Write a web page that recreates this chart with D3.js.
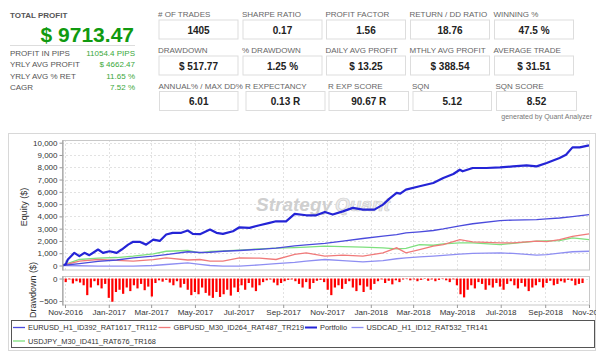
<!DOCTYPE html>
<html><head><meta charset="utf-8">
<script src="https://cdn.jsdelivr.net/npm/d3@7"></script>
<style>body{margin:0;background:#fff;} svg{display:block;font-family:'Liberation Sans',Arial,sans-serif;}</style>
</head><body><svg id="c" width="602" height="356"></svg>
<script>
// ---------- DATA ----------
const totalProfit = "$ 9713.47";
const summaryLabels = ["PROFIT IN PIPS", "YRLY AVG PROFIT", "YRLY AVG % RET", "CAGR"];
const summaryValues = ["11054.4 PIPS", "$ 4662.47", "11.65 %", "7.52 %"];
const statLabels = [
  ["# OF TRADES", "SHARPE RATIO", "PROFIT FACTOR", "RETURN / DD RATIO", "WINNING %"],
  ["DRAWDOWN", "% DRAWDOWN", "DAILY AVG PROFIT", "MTHLY AVG PROFIT", "AVERAGE TRADE"],
  ["ANNUAL% / MAX DD%", "R EXPECTANCY", "R EXP SCORE", "SQN", "SQN SCORE"]
];
const statValues = [
  ["1405", "0.17", "1.56", "18.76", "47.5 %"],
  ["$ 517.77", "1.25 %", "$ 13.25", "$ 388.54", "$ 31.51"],
  ["6.01", "0.13 R", "90.67 R", "5.12", "8.52"]
];

const portfolioDates = ["2016-10-28","2016-11-02","2016-11-05","2016-11-14","2016-11-21","2016-11-28","2016-12-05","2016-12-17","2016-12-24",
 "2017-01-02","2017-01-12","2017-01-19","2017-01-28","2017-02-04","2017-02-13","2017-02-22","2017-03-04","2017-03-13","2017-03-22","2017-03-31",
 "2017-04-12","2017-04-21","2017-04-28","2017-05-08","2017-05-22","2017-05-31","2017-06-09","2017-06-23","2017-07-02","2017-07-16","2017-07-30",
 "2017-08-13","2017-08-22","2017-09-05","2017-09-17","2017-10-03","2017-10-17","2017-10-29","2017-11-09","2017-11-23","2017-12-07","2017-12-21",
 "2018-01-06","2018-01-18","2018-01-27","2018-02-06","2018-02-11","2018-02-19","2018-03-10","2018-03-29","2018-04-12","2018-04-26","2018-05-05",
 "2018-05-09","2018-05-23","2018-06-11","2018-06-30","2018-07-18","2018-08-06","2018-08-20","2018-09-03","2018-09-21","2018-09-30","2018-10-09",
 "2018-10-19","2018-11-01"];
const portfolioValues = [0,100,490,1030,760,1030,840,1300,1030,
 1160,1030,1300,1700,1930,1930,1700,2110,2000,2520,2660,
 2660,2850,2580,2550,2930,2660,2580,2790,3110,3060,3280,
 3470,3600,3600,4200,4090,4090,4360,4150,4410,4690,4550,
 4550,4960,5450,5910,5850,6180,6450,6720,7130,7450,7800,
 7670,7940,7940,7990,8070,8150,8070,8350,8760,9020,9620,
 9620,9780];

const strategyDates = ["2016-10-28","2016-11-21","2016-12-17","2017-01-12","2017-02-04","2017-03-04","2017-03-22","2017-04-21","2017-05-08",
 "2017-05-22","2017-06-09","2017-07-02","2017-07-30","2017-08-22","2017-09-17","2017-10-03","2017-10-29","2017-11-23","2017-12-21","2018-01-18",
 "2018-02-06","2018-02-19","2018-03-10","2018-03-29","2018-04-12","2018-05-05","2018-05-23","2018-06-30","2018-07-18","2018-08-20","2018-09-03",
 "2018-09-21","2018-10-09","2018-11-01"];
const eurusdValues = [0,150,330,450,620,760,890,1120,1060,1080,1160,1220,1320,1420,1600,1680,1800,1980,2200,2400,2520,2650,2740,2850,2980,3230,3400,3660,3700,3740,3800,3870,3980,4150];
const gbpusdValues = [0,350,490,420,350,480,620,450,490,350,350,620,600,490,900,1030,760,850,760,1030,1440,1030,1300,1570,1700,2110,1930,1850,1850,1980,1950,2110,2380,2580];
const usdcadValues = [0,-20,-50,-50,-50,0,80,220,100,0,-50,-50,50,150,250,350,490,400,300,400,550,620,700,760,820,930,980,1030,980,840,880,1000,1120,1160];
const usdjpyValues = [0,490,600,650,760,950,1160,1220,1030,1150,1180,1250,1350,1420,1460,1500,1570,1530,1500,1440,1350,1400,1700,1650,1760,1850,1850,1700,1800,1980,2000,2030,2250,2110];

const drawdownStart = "2016-10-28";
const drawdownStepDays = 5;
const drawdownValues = [-40,-80,-20,-110,-60,-90,-150,-370,-200,-60,-150,-220,-120,-430,-517,-300,
 -250,-340,-200,-280,-150,-220,-120,-260,-180,-400,-100,-40,-70,-30,-90,-150,-60,-200,-120,
 -250,-370,-300,-350,-200,-320,-380,-430,-300,-410,-350,-250,-380,-200,-300,-150,-250,-100,-200,-280,
 -150,-80,-40,-20,-90,-150,-100,-60,-30,-20,-60,-120,-200,-80,-230,-100,-50,-30,-80,
 -250,-370,-200,-150,-230,-120,-60,-200,-280,-150,-300,-180,-250,-120,-60,-20,-100,-50,-130,-40,
 -80,-20,-10,-40,-20,-60,-30,-10,-50,-20,-60,-30,-10,-40,-80,-20,-150,-350,-420,-250,
 -150,-220,-80,-120,-250,-150,-200,-100,-180,-250,-120,-60,-150,-220,-100,-180,-280,-200,-150,-80,
 -200,-100,-50,-150,-120,-60,-90,-30,-50,-150,-120,-100];

const equityTicks = [0,1000,2000,3000,4000,5000,6000,7000,8000,9000,10000];
const drawdownTicks = [0,-500];
const xTickDates = ["2016-11-01","2017-01-01","2017-03-01","2017-05-01","2017-07-01","2017-09-01","2017-11-01",
 "2018-01-01","2018-03-01","2018-05-01","2018-07-01","2018-09-01","2018-11-01"];

const seriesNames = ["EURUSD_H1_ID392_RAT1617_TR112", "GBPUSD_M30_ID264_RAT487_TR219", "Portfolio", "USDCAD_H1_ID12_RAT532_TR141", "USDJPY_M30_ID411_RAT676_TR168"];
const seriesColors = ["#4b4bdc", "#f07a7a", "#2424d6", "#8e8ef2", "#7ee07e"];

// ---------- DRAW ----------
const svg = d3.select("#c");
const pd = d3.timeParse("%Y-%m-%d");

// Summary left
svg.append("text").attr("x",10).attr("y",17.5).attr("font-size",8).attr("font-weight","bold").attr("fill","#555").text("TOTAL PROFIT");
svg.append("text").attr("x",134).attr("y",42).attr("text-anchor","end").attr("font-size",21).attr("font-weight","bold").attr("fill","#109a10").text(totalProfit);
svg.append("line").attr("x1",10).attr("x2",135).attr("y1",45.5).attr("y2",45.5).attr("stroke","#ddd");
summaryLabels.forEach((l,i)=>{
  const y = 55.5 + i*11.5;
  svg.append("text").attr("x",10).attr("y",y).attr("font-size",8).attr("fill","#555").text(l);
  svg.append("text").attr("x",135).attr("y",y).attr("text-anchor","end").attr("font-size",8).attr("fill","#3aa83a").text(summaryValues[i]);
});

// Stat boxes
const colX = [[158.5,242.5,326,410,494],[158.5,242.5,326,410,494],[159,245.5,328.5,412.5,496]];
const colW = [[80,80,80,80,80],[80,80,80,80,80],[79.5,80,80.5,79.5,81]];
const rowY = [19.5,55.5,91];
statLabels.forEach((row,r)=>{
  row.forEach((lab,c)=>{
    const x0 = colX[r][c], w = colW[r][c], y0 = rowY[r];
    svg.append("text").attr("x",x0-0.5).attr("y",y0-2.2).attr("font-size",8).attr("fill","#666").text(lab);
    svg.append("rect").attr("x",x0+0.5).attr("y",y0+0.5).attr("width",w-1).attr("height",19).attr("fill","#fff").attr("stroke","#ddd");
    svg.append("text").attr("x",x0+w/2).attr("y",y0+14).attr("text-anchor","middle").attr("font-size",10).attr("font-weight","bold").attr("fill","#222").text(statValues[r][c]);
  });
});
svg.append("text").attr("x",592).attr("y",118.5).attr("text-anchor","end").attr("font-size",7).attr("fill","#777").text("generated by Quant Analyzer");

// Chart panel
svg.append("rect").attr("x",8.5).attr("y",133.5).attr("width",587).attr("height",217).attr("fill","#fff").attr("stroke","#d8d8d8");
svg.append("defs").append("clipPath").attr("id","panelClip").append("rect").attr("x",9).attr("y",134).attr("width",587).attr("height",216);
svg.select("defs").append("clipPath").attr("id","plotClip").append("rect").attr("x",62).attr("y",140).attr("width",528).attr("height",130);
svg.select("defs").append("clipPath").attr("id","ddClip").append("rect").attr("x",62).attr("y",276).attr("width",528).attr("height",29);

const g = svg.append("g").attr("clip-path","url(#panelClip)");
const L = 62, R = 590;
const x = d3.scaleTime().domain([pd("2016-11-01"), pd("2018-11-01")]).range([65, 589]);
const yEq = d3.scaleLinear().domain([-366, 10220]).range([270, 140]);
const yDd = d3.scaleLinear().domain([-589, 56]).range([305, 276]);
const xt = xTickDates.map(pd);

// grids
const grid = g.append("g").attr("stroke","#e2e2e2").attr("stroke-dasharray","2,2");
grid.selectAll(".hg").data(equityTicks.slice(1)).join("line").attr("x1",L).attr("x2",R).attr("y1",d=>Math.round(yEq(d))+0.5).attr("y2",d=>Math.round(yEq(d))+0.5);
grid.selectAll(".vg").data(xt).join("line").attr("x1",d=>Math.round(x(d))+0.5).attr("x2",d=>Math.round(x(d))+0.5).attr("y1",140).attr("y2",270);
grid.selectAll(".vg2").data(xt).join("line").attr("x1",d=>Math.round(x(d))+0.5).attr("x2",d=>Math.round(x(d))+0.5).attr("y1",276).attr("y2",305);
grid.selectAll(".hg2").data(drawdownTicks).join("line").attr("x1",L).attr("x2",R).attr("y1",d=>Math.round(yDd(d))+0.5).attr("y2",d=>Math.round(yDd(d))+0.5);

// watermark
const wm = g.append("text").attr("x",323).attr("y",211).attr("text-anchor","middle").attr("font-size",19).attr("font-weight","bold").attr("font-style","italic");
wm.append("tspan").attr("fill","#cfcfcf").text("Strategy");
wm.append("tspan").attr("fill","#ececec").attr("stroke","#cfcfcf").attr("stroke-width",0.7).attr("dx",3).text("Quant");

// lines
const plotG = g.append("g").attr("clip-path","url(#plotClip)");
const line = d3.line().x(d=>x(d[0])).y(d=>yEq(d[1]));
const sd = strategyDates.map(pd);
const strat = [
  {v: usdcadValues, c: seriesColors[3], w: 1.3},
  {v: usdjpyValues, c: seriesColors[4], w: 1.3},
  {v: gbpusdValues, c: seriesColors[1], w: 1.3},
  {v: eurusdValues, c: seriesColors[0], w: 1.3}
];
strat.forEach(s=>{
  plotG.append("path").datum(sd.map((d,i)=>[d,s.v[i]])).attr("d",line).attr("fill","none").attr("stroke",s.c).attr("stroke-width",s.w);
});
plotG.append("path").datum(portfolioDates.map((d,i)=>[pd(d),portfolioValues[i]])).attr("d",line)
  .attr("fill","none").attr("stroke",seriesColors[2]).attr("stroke-width",2.2).attr("stroke-linejoin","round");

// drawdown bars
const ddStart = pd(drawdownStart);
const ddData = drawdownValues.map((v,i)=>[d3.timeDay.offset(ddStart, i*drawdownStepDays), v]);
g.append("g").attr("clip-path","url(#ddClip)").selectAll("rect").data(ddData).join("rect")
  .attr("x",d=>x(d[0])-1.1).attr("width",2.2)
  .attr("y",yDd(0)).attr("height",d=>yDd(d[1])-yDd(0)).attr("fill","#ff0000");

// frames
g.append("rect").attr("x",L+0.5).attr("y",140.5).attr("width",R-L-1).attr("height",129.5).attr("fill","none").attr("stroke","#c8c8c8");
g.append("rect").attr("x",L+0.5).attr("y",276.5).attr("width",R-L-1).attr("height",28.5).attr("fill","none").attr("stroke","#c8c8c8");

// axes
const axY = g.append("g").attr("transform",`translate(${L+0.5},0)`)
  .call(d3.axisLeft(yEq).tickValues(equityTicks).tickFormat(d3.format(",")).tickSize(3).tickSizeOuter(0).tickPadding(2));
const axD = g.append("g").attr("transform",`translate(${L+0.5},0)`)
  .call(d3.axisLeft(yDd).tickValues(drawdownTicks).tickFormat(d3.format("d")).tickSize(3).tickSizeOuter(0).tickPadding(2));
const axX = g.append("g").attr("transform",`translate(0,305)`)
  .call(d3.axisBottom(x).tickValues(xt).tickFormat(d3.timeFormat("%b-%Y")).tickSize(3).tickSizeOuter(0).tickPadding(1));
[axY,axD,axX].forEach(a=>{
  a.selectAll("path").attr("stroke","#999");
  a.selectAll("line").attr("stroke","#999");
  a.selectAll("text").attr("font-size",8).attr("fill","#333").attr("font-family","'Liberation Sans',Arial,sans-serif");
});
axX.select(".domain").remove();

// axis titles
g.append("text").attr("transform","translate(27,207) rotate(-90)").attr("text-anchor","middle").attr("font-size",9).attr("fill","#333").text("Equity ($)");
g.append("text").attr("transform","translate(36,290) rotate(-90)").attr("text-anchor","middle").attr("font-size",9).attr("fill","#333").text("Drawdown ($)");

// legend
g.append("rect").attr("x",11.5).attr("y",320.5).attr("width",583).attr("height",27).attr("fill","#fff").attr("stroke","#555");
const legPos = [[13,327.5],[158.5,327.5],[305,327.5],[351.5,327.5],[13,341]];
seriesNames.forEach((n,i)=>{
  const [lx,ly] = legPos[i];
  g.append("line").attr("x1",lx).attr("x2",lx+12).attr("y1",ly).attr("y2",ly).attr("stroke",seriesColors[i]).attr("stroke-width", i===2?2:1.3);
  g.append("text").attr("x",lx+15).attr("y",ly+2.7).attr("font-size",7.4).attr("fill","#333").text(n);
});
</script></body></html>
